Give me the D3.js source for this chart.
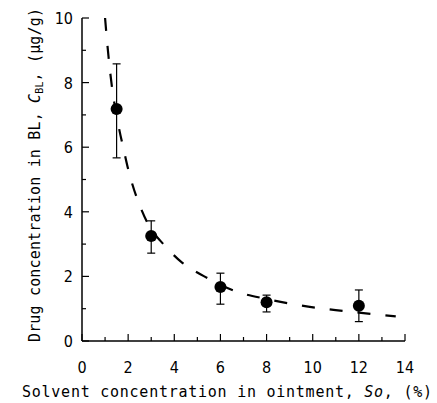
<!DOCTYPE html>
<html lang="en">
<head>
    <meta charset="UTF-8">
    <title>Drug concentration vs solvent concentration</title>
    <script src="https://d3js.org/d3.v7.min.js"></script>
    <style>
        body { margin: 0; background: #fff; }
        svg { display: block; }
        .tick-label { font-family: "DejaVu Sans Condensed", "DejaVu Sans", sans-serif; font-size: 16px; }
        .axis-title { font-family: "DejaVu Sans Mono", monospace; font-size: 15px; }
    </style>
</head>
<body>
    <div id="chart"></div>

    <script>
        // Measured points (solvent % vs drug conc), with error bar ends
        const solventPct = [1.5, 3, 6, 8, 12];
        const drugConc = [7.18, 3.25, 1.67, 1.2, 1.09];
        const errHigh = [8.58, 3.72, 2.1, 1.42, 1.58];
        const errLow = [5.67, 2.72, 1.14, 0.9, 0.6];

        // Dashed fitted curve
        const curveX = [1.0, 1.15, 1.35, 1.6, 1.8, 2.1, 2.5, 3.0, 3.4, 4.3, 5.3, 6.7, 8, 9.4, 10.7, 12, 13.6];
        const curveY = [10.0, 8.8, 7.6, 6.6, 5.95, 5.05, 4.2, 3.45, 3.1, 2.45, 2.0, 1.53, 1.3, 1.11, 0.98, 0.88, 0.76];

        const xTicks = [0, 2, 4, 6, 8, 10, 12, 14];
        const yTicks = [0, 2, 4, 6, 8, 10];

        const margin = { top: 18, right: 32, bottom: 62, left: 82 };
        const totalW = 437, totalH = 403;
        const width = totalW - margin.left - margin.right;
        const height = totalH - margin.top - margin.bottom;

        const svg = d3.select("#chart")
            .append("svg")
            .attr("width", totalW)
            .attr("height", totalH);

        const g = svg.append("g")
            .attr("transform", `translate(${margin.left},${margin.top})`);

        const x = d3.scaleLinear().domain([0, 14]).range([0, width]);
        const y = d3.scaleLinear().domain([0, 10]).range([height, 0]);

        // Axis lines
        g.append("line")
            .attr("x1", 0).attr("x2", 0)
            .attr("y1", y(10)).attr("y2", y(0))
            .attr("stroke", "#000").attr("stroke-width", 1.5);
        g.append("line")
            .attr("x1", x(0)).attr("x2", x(14))
            .attr("y1", height).attr("y2", height)
            .attr("stroke", "#000").attr("stroke-width", 1.5);

        // Inward ticks: majors and minors
        d3.range(0, 15, 1).forEach(v => {
            const len = v % 2 === 0 ? 7 : 4;
            g.append("line")
                .attr("x1", x(v)).attr("x2", x(v))
                .attr("y1", height).attr("y2", height - len)
                .attr("stroke", "#000").attr("stroke-width", 1.2);
        });
        d3.range(0, 11, 1).forEach(v => {
            const len = v % 2 === 0 ? 7 : 4;
            g.append("line")
                .attr("x1", 0).attr("x2", len)
                .attr("y1", y(v)).attr("y2", y(v))
                .attr("stroke", "#000").attr("stroke-width", 1.2);
        });

        // Tick labels
        g.selectAll(".xl").data(xTicks).enter().append("text")
            .attr("class", "tick-label")
            .attr("x", d => x(d))
            .attr("y", height + 32)
            .attr("text-anchor", "middle")
            .text(d => d);

        g.selectAll(".yl").data(yTicks).enter().append("text")
            .attr("class", "tick-label")
            .attr("x", -9)
            .attr("y", d => y(d) + 6)
            .attr("text-anchor", "end")
            .text(d => d);

        // Dashed curve
        const line = d3.line()
            .x((d, i) => x(curveX[i]))
            .y((d, i) => y(curveY[i]))
            .curve(d3.curveCatmullRom);

        g.append("path")
            .datum(curveX)
            .attr("d", line)
            .attr("fill", "none")
            .attr("stroke", "#000")
            .attr("stroke-width", 2.2)
            .attr("stroke-dasharray", "13,15");

        // Error bars
        const pts = solventPct.map((s, i) => ({ s, c: drugConc[i], hi: errHigh[i], lo: errLow[i] }));
        const eb = g.selectAll(".eb").data(pts).enter().append("g");
        eb.append("line")
            .attr("x1", d => x(d.s)).attr("x2", d => x(d.s))
            .attr("y1", d => y(d.hi)).attr("y2", d => y(d.lo))
            .attr("stroke", "#000").attr("stroke-width", 1.2);
        eb.append("line")
            .attr("x1", d => x(d.s) - 4).attr("x2", d => x(d.s) + 4)
            .attr("y1", d => y(d.hi)).attr("y2", d => y(d.hi))
            .attr("stroke", "#000").attr("stroke-width", 1.2);
        eb.append("line")
            .attr("x1", d => x(d.s) - 4).attr("x2", d => x(d.s) + 4)
            .attr("y1", d => y(d.lo)).attr("y2", d => y(d.lo))
            .attr("stroke", "#000").attr("stroke-width", 1.2);

        // Points
        g.selectAll(".pt").data(pts).enter().append("circle")
            .attr("cx", d => x(d.s))
            .attr("cy", d => y(d.c))
            .attr("r", 6)
            .attr("fill", "#000");

        // X axis title
        const xt = svg.append("text")
            .attr("class", "axis-title")
            .attr("x", 22)
            .attr("y", 397)
            .attr("textLength", 410)
            .attr("lengthAdjust", "spacing");
        xt.append("tspan").text("Solvent concentration in ointment, ");
        xt.append("tspan").attr("font-style", "italic").text("So");
        xt.append("tspan").text(", (%)");

        // Y axis title
        const yt = svg.append("text")
            .attr("class", "axis-title")
            .attr("transform", "translate(40,342) rotate(-90)")
            .attr("x", 0)
            .attr("y", 0)
            .attr("textLength", 334)
            .attr("lengthAdjust", "spacing");
        yt.append("tspan").text("Drug concentration in BL, ");
        yt.append("tspan").attr("font-style", "italic").text("C");
        yt.append("tspan").attr("font-size", "10px").attr("dy", 3).text("BL");
        yt.append("tspan").attr("dy", -3).text(", (μg/g)");
    </script>
</body>
</html>
